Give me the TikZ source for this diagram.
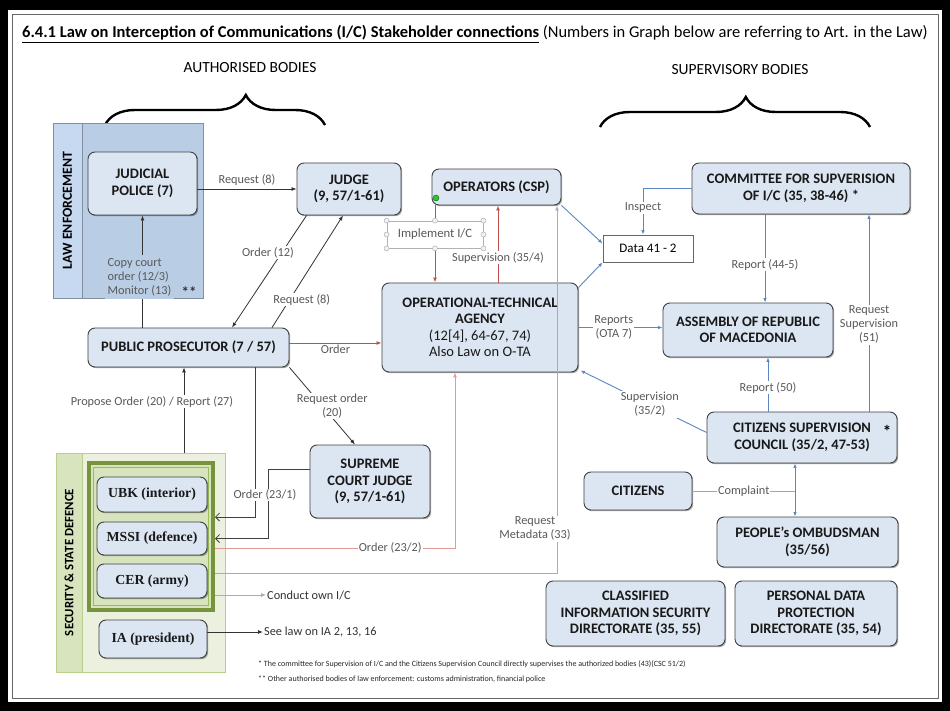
\documentclass[tikz,border=0pt]{standalone}
\usepackage{fontspec}
\setmainfont{Carlito}
\newfontfamily\serifb{Liberation Serif}
\usetikzlibrary{arrows.meta,decorations.pathreplacing,shadows,calc}
\definecolor{boxfill}{HTML}{DCE6F2}
\definecolor{boxdraw}{HTML}{404040}
\definecolor{lefill}{HTML}{B9CDE5}
\definecolor{lestrip}{HTML}{C6D9F1}
\definecolor{secfill}{HTML}{EBF1DE}
\definecolor{secstrip}{HTML}{D7E4BD}
\definecolor{olive}{HTML}{77933C}
\definecolor{oliveL}{HTML}{D7E4BD}
\definecolor{oliveM}{HTML}{9BBB59}
\definecolor{bluel}{HTML}{5B86C0}
\definecolor{redl}{HTML}{C0504D}
\definecolor{pinkl}{HTML}{E29A98}
\definecolor{purpl}{HTML}{B3A2C7}
\definecolor{lblc}{HTML}{595959}
\begin{document}
\begin{tikzpicture}[x=1pt,y=-1pt,
  box/.style={draw=boxdraw, fill=boxfill, rounded corners=7pt, line width=0.9pt, align=center, inner sep=0pt, text=black!90,
    font=\bfseries\fontsize{14.5}{16.5}\selectfont,
    drop shadow={shadow xshift=1.2pt,shadow yshift=-1.2pt,opacity=0.35,fill=black}},
  sbox/.style={box, font=\serifb\bfseries\fontsize{13.8}{15}\selectfont},
  lbl/.style={font=\fontsize{12.3}{14}\selectfont, text=lblc, align=center, inner sep=1pt},
  wlbl/.style={lbl, fill=white},
  arr/.style={draw=black!80, line width=0.8pt, -{Latex[length=5pt,width=4pt]}},
  barb/.style={draw=black!75, line width=0.8pt, -{Straight Barb[length=4pt,width=8pt]}},
  redarr/.style={draw=redl, line width=1pt, -{Latex[length=5pt,width=4pt]}},
  pinkarr/.style={draw=pinkl, line width=1pt, -{Latex[length=5pt,width=4pt]}},
  purparr/.style={draw=purpl, line width=1pt, -{Latex[length=5pt,width=4pt]}},
  bluearr/.style={draw=bluel, line width=0.9pt, -{Latex[length=4.5pt,width=3.5pt]}},
  handle/.style={circle, draw=gray!70, fill=blue!5, minimum size=5pt, inner sep=0pt}
]
\useasboundingbox (0,0) rectangle (950,711);
\fill[black] (0,0) rectangle (950,711);
\fill[white] (8,10) rectangle (942,702);
\draw[black!60, line width=0.8pt] (12,14) rectangle (938,698);

% title
\node[anchor=base west, inner sep=0pt, font=\fontsize{16.5}{18}\selectfont] (title) at (22,38)
  {\textbf{\underline{6.4.1 Law on Interception of Communications (I/C) Stakeholder connections}} (Numbers in Graph below are referring to Art. in the Law)};

% headings and braces
\node[font=\fontsize{15.5}{17}\selectfont] (hauth) at (250,68) {AUTHORISED BODIES};
\node[font=\fontsize{15.5}{17}\selectfont] (hsup) at (740,70) {SUPERVISORY BODIES};
\draw[line width=2.4pt, decorate, decoration={brace, amplitude=30pt, aspect=0.64}] (105,125) -- (325,125);
\draw[line width=2.4pt, decorate, decoration={brace, amplitude=30pt, aspect=0.54}] (600,127) -- (870,127);

% law enforcement group
\node[draw=lefill!70!black, fill=lefill, minimum width=150pt, minimum height=175pt, inner sep=0pt,
  drop shadow={shadow xshift=1.2pt,shadow yshift=-1.2pt,opacity=0.3,fill=black}] (le) at (128,210.5) {};
\node[rotate=90, draw=lefill!70!black, fill=lestrip, minimum width=175pt, minimum height=29pt, inner sep=0pt,
  font=\bfseries\fontsize{13.8}{14}\selectfont] (lestr) at (67.5,210.5) {LAW ENFORCEMENT};
\node[font=\bfseries\fontsize{15}{15}\selectfont, text=black!80] (stars2) at (189,292) {**};

% security group
\node[draw=oliveM!70, fill=secfill, minimum width=169pt, minimum height=219pt, inner sep=0pt] (sec) at (140.5,562.5) {};
\node[rotate=90, draw=oliveM!70, fill=secstrip, minimum width=219pt, minimum height=26pt, inner sep=0pt,
  font=\bfseries\fontsize{12.8}{14}\selectfont] (secstr) at (69,562.5) {SECURITY \& STATE DEFENCE};
\node[draw=olive, line width=4pt, fill=oliveL, minimum width=124pt, minimum height=147pt, inner sep=0pt] (inner) at (151,536.5) {};
\draw[oliveM, line width=1.2pt] (93.5,467.5) rectangle (208.5,605.5);

% nodes
\node[box, minimum width=109pt, minimum height=63pt] (jp) at (142.5,183.5) {JUDICIAL\\POLICE (7)};
\node[box, minimum width=104pt, minimum height=52pt] (judge) at (349,189) {JUDGE\\(9, 57/1-61)};
\node[box, minimum width=129pt, minimum height=36pt] (ops) at (496.5,187) {OPERATORS (CSP)};
\node[box, minimum width=196pt, minimum height=89pt] (ota) at (480,327.5)
  {OPERATIONAL-TECHNICAL\\AGENCY\\\mdseries (12[4], 64-67, 74)\\\mdseries Also Law on O-TA};
\node[draw=black!60, fill=white, line width=0.8pt, minimum width=90pt, minimum height=27pt, inner sep=0pt,
  font=\fontsize{13}{14}\selectfont] (data) at (648,248.5) {Data 41 - 2};
\node[box, minimum width=218pt, minimum height=51pt] (com) at (801,188.5) {COMMITTEE FOR SUPVERISION\\OF I/C (35, 38-46) *};
\node[box, minimum width=170pt, minimum height=54pt] (asm) at (748,330) {ASSEMBLY OF REPUBLIC\\OF MACEDONIA};
\node[box, minimum width=190pt, minimum height=51pt] (csc) at (802,437.5) {CITIZENS SUPERVISION\\COUNCIL (35/2, 47-53)};
\node[font=\bfseries\fontsize{17}{17}\selectfont] (cscstar) at (887,431) {*};
\node[box, minimum width=108pt, minimum height=38pt] (cit) at (638,491) {CITIZENS};
\node[box, minimum width=181pt, minimum height=50pt] (omb) at (807.5,542) {PEOPLE's OMBUDSMAN\\(35/56)};
\node[box, minimum width=179pt, minimum height=65pt] (cis) at (635.5,613.5) {CLASSIFIED\\INFORMATION SECURITY\\DIRECTORATE (35, 55)};
\node[box, minimum width=162pt, minimum height=65pt] (pdp) at (816,613.5) {PERSONAL DATA\\PROTECTION\\DIRECTORATE (35, 54)};
\node[box, minimum width=201pt, minimum height=39pt] (pp) at (188.5,347.5) {PUBLIC PROSECUTOR (7 / 57)};
\node[box, minimum width=120pt, minimum height=73pt] (sc) at (370,481.5) {SUPREME\\COURT JUDGE\\(9, 57/1-61)};
\node[sbox, minimum width=110pt, minimum height=35pt] (ubk) at (152,494.5) {UBK (interior)};
\node[sbox, minimum width=110pt, minimum height=33pt] (mssi) at (152,538.5) {MSSI (defence)};
\node[sbox, minimum width=110pt, minimum height=34pt] (cer) at (152,581) {CER (army)};
\node[sbox, minimum width=108pt, minimum height=38pt] (ia) at (153,639) {IA (president)};

% helper coordinates
\coordinate (opsA) at ([xshift=-61.5pt]ops.south);
\coordinate (opsB) at ([xshift=1.5pt]ops.south);
\coordinate (opsC) at ([xshift=60.5pt]ops.south);
\coordinate (otaB) at ([xshift=18pt]ota.north);
\coordinate (judgeA) at ([xshift=10pt]judge.south west);
\coordinate (judgeB) at ([xshift=-6pt]judge.south);
\coordinate (ppA) at ([xshift=43.5pt]pp.north);
\coordinate (ppB) at ([xshift=83.5pt]pp.north);
\coordinate (ppC) at ([xshift=-4.5pt]pp.south);
\coordinate (ppD) at ([xshift=66.5pt]pp.south);
\coordinate (ppE) at ([yshift=4.5pt]pp.east);
\coordinate (scTop) at ([xshift=-15pt]sc.north);
\coordinate (scW) at ([yshift=12.5pt]sc.west);
\coordinate (otaS) at ([xshift=-25pt]ota.south);
\coordinate (comA) at ([xshift=-36pt]com.south);
\coordinate (cscA) at ([xshift=67pt]csc.north);
\coordinate (cscB) at ([xshift=-34pt]csc.north);
\coordinate (cscC) at ([xshift=-7pt]csc.south);
\coordinate (cscW) at ([yshift=5pt]csc.west);
\coordinate (dataA) at ([xshift=-5pt]data.north);
\coordinate (mid12) at ($(ubk.south)!0.5!(mssi.north)$);
\coordinate (y548) at (0,548);
\coordinate (y573) at (0,573);
\coordinate (y595) at (0,595);

% free-end text nodes
\node[lbl, anchor=west, text=black!80] (conduct) at (266,595) {Conduct own I/C};
\node[lbl, anchor=west, text=black!80] (seelaw) at (263,632) {See law on IA 2, 13, 16};

% authorised-side connectors
\draw[arr] (jp.east |- judge.west) -- node[lbl, above=2pt] {Request (8)} (judge.west);
\draw[arr] (jp.south |- pp.north) -- node[lbl, fill=lefill, align=left, pos=0.45, inner sep=3pt, xshift=-3pt] {Copy court\\order (12/3)\\Monitor (13)} (jp.south);
\draw[arr] (judgeA) -- node[wlbl, pos=0.33, xshift=-14pt] {Order (12)} (ppA);
\draw[arr] (ppB) -- node[wlbl, pos=0.25, xshift=12pt] {Request (8)} (judgeB);
\draw[redarr] (ppE) -- node[lbl, below=0pt] {Order} (ppE -| ota.west);
\draw[arr] (pp.south east) -- node[wlbl, pos=0.5, xshift=10pt] {Request order\\(20)} (scTop);
\draw[arr] (sec.north -| ppC) -- node[wlbl, pos=0.6, xshift=-32pt] {Propose Order (20) / Report (27)} (ppC);
\draw[barb] (ppD) |- (inner.east |- mid12);
\draw[barb] (scW) -- ++(-41,0) |- (inner.east |- mssi.center);
\node[wlbl] (o231) at (265,495) {Order (23/1)};
\draw[pinkarr] (inner.east |- y548) -| node[wlbl, pos=0.365] {Order (23/2)} (otaS);
\draw[purparr] (inner.east |- y573) -| node[wlbl, pos=0.56, xshift=-22pt] {Request\\Metadata (33)} (opsC);
\draw[purparr] (inner.east |- y595) -- (conduct.west);
\draw[arr] (ia.east |- seelaw.west) -- (seelaw.west);

% operators / OTA
\draw[redarr] (opsA) -- (opsA |- ota.north);
\draw[redarr] (otaB) -- node[wlbl, pos=0.32] {Supervision (35/4)} (opsB);
\node[draw=gray!60, fill=white, line width=0.8pt, minimum width=96pt, minimum height=27pt, inner sep=0pt,
  font=\fontsize{12.7}{13}\selectfont, text=lblc] (impl) at (435,234.5) {Implement I/C};
\foreach \a in {north west,north,north east,west,east,south west,south,south east}
  \node[handle] at (impl.\a) {};
\node[circle, fill=green!70!black!80, draw=green!40!black, minimum size=6pt, inner sep=0pt] (gdot) at (436,198) {};

% supervisory connectors
\draw[bluearr] (ops.south east) -- ([yshift=5pt]data.west);
\draw[bluearr] ([yshift=-5pt]ota.north east) -- (data.south west);
\draw[bluearr] (com.west) -| node[wlbl, pos=0.71] {Inspect} (dataA);
\draw[bluearr] (comA) -- node[wlbl, pos=0.57] {Report (44-5)} (comA |- asm.north);
\draw[bluearr] (cscA) -- node[wlbl, pos=0.44] {Request\\Supervision\\(51)} (cscA |- com.south);
\draw[bluearr] (ota.east) -- node[wlbl, pos=0.42] {Reports\\(OTA 7)} (ota.east -| asm.west);
\draw[bluearr] (cscB) -- node[wlbl, pos=0.44] {Report (50)} (cscB |- asm.south);
\draw[bluearr] (cscW) -- node[wlbl, pos=0.45] {Supervision\\(35/2)} ([xshift=2pt,yshift=2pt]ota.south east);
\draw[bluearr, {Latex[length=4.5pt,width=3.5pt]}-{Latex[length=4.5pt,width=3.5pt]}] (cscC) -- (cscC |- omb.north);
\draw[draw=bluel!70, line width=0.9pt] (cit.east) -- node[wlbl] {Complaint} (cit.east -| cscC);

% footnotes
\node[anchor=base west, inner sep=0pt, font=\fontsize{8}{9}\selectfont, text=black!85] (fn1) at (258,666)
  {* The committee for Supervision of I/C and the Citizens Supervision Council directly supervises the authorized bodies (43)(CSC 51/2)};
\node[anchor=base west, inner sep=0pt, font=\fontsize{8}{9}\selectfont, text=black!85] (fn2) at (258,681)
  {** Other authorised bodies of law enforcement: customs administration, financial police};
\end{tikzpicture}
\end{document}
